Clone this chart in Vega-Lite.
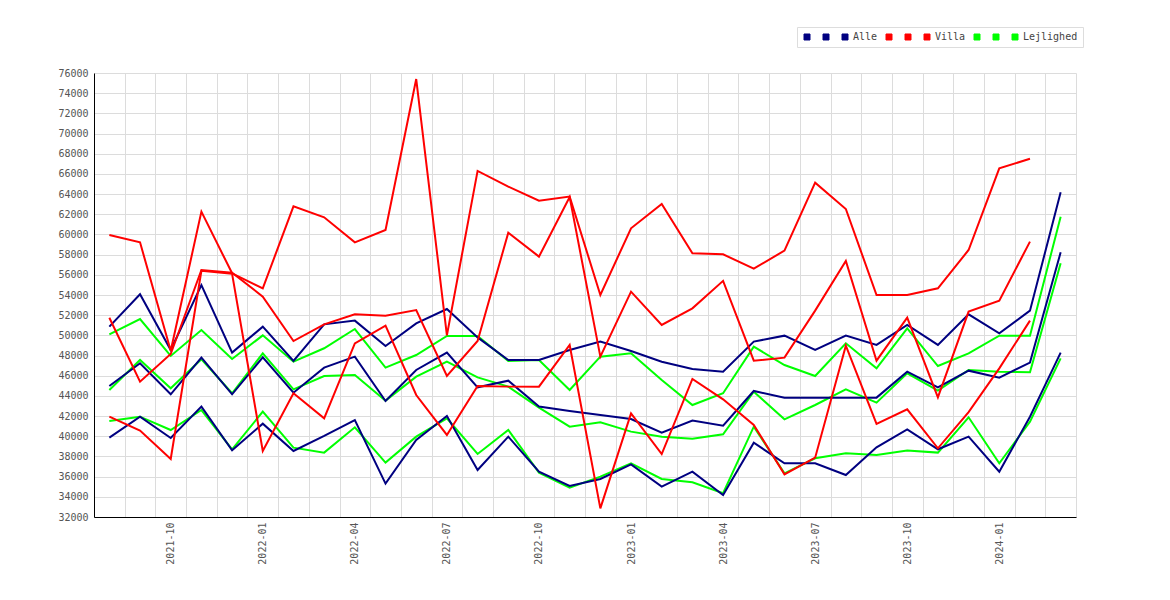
{
  "$schema": "https://vega.github.io/schema/vega-lite/v6.json",
  "width": 982,
  "height": 444,
  "autosize": {"type": "none"},
  "padding": {"left": 94, "top": 73, "right": 94, "bottom": 83},
  "background": "white",
  "config": {
    "view": {"stroke": null},
    "font": "DejaVu Sans Mono"
  },
  "data": {
    "values": [
      {"m":"2021-08","s":"l1","v":50100},{"m":"2021-09","s":"l1","v":51620},{"m":"2021-10","s":"l1","v":47960},{"m":"2021-11","s":"l1","v":50530},{"m":"2021-12","s":"l1","v":47660},{"m":"2022-01","s":"l1","v":50000},{"m":"2022-02","s":"l1","v":47390},{"m":"2022-03","s":"l1","v":48720},{"m":"2022-04","s":"l1","v":50630},{"m":"2022-05","s":"l1","v":46800},{"m":"2022-06","s":"l1","v":48050},{"m":"2022-07","s":"l1","v":49940},{"m":"2022-08","s":"l1","v":49940},{"m":"2022-09","s":"l1","v":47460},{"m":"2022-10","s":"l1","v":47560},{"m":"2022-11","s":"l1","v":44590},{"m":"2022-12","s":"l1","v":47890},{"m":"2023-01","s":"l1","v":48220},{"m":"2023-02","s":"l1","v":45580},{"m":"2023-03","s":"l1","v":43100},{"m":"2023-04","s":"l1","v":44260},{"m":"2023-05","s":"l1","v":48880},{"m":"2023-06","s":"l1","v":47060},{"m":"2023-07","s":"l1","v":45970},{"m":"2023-08","s":"l1","v":49210},{"m":"2023-09","s":"l1","v":46730},{"m":"2023-10","s":"l1","v":50700},{"m":"2023-11","s":"l1","v":46960},{"m":"2023-12","s":"l1","v":48220},{"m":"2024-01","s":"l1","v":49970},{"m":"2024-02","s":"l1","v":49970},{"m":"2024-03","s":"l1","v":61760},
      {"m":"2021-08","s":"l2","v":44590},{"m":"2021-09","s":"l2","v":47560},{"m":"2021-10","s":"l2","v":44750},{"m":"2021-11","s":"l2","v":47630},{"m":"2021-12","s":"l2","v":44260},{"m":"2022-01","s":"l2","v":48220},{"m":"2022-02","s":"l2","v":44650},{"m":"2022-03","s":"l2","v":45970},{"m":"2022-04","s":"l2","v":46070},{"m":"2022-05","s":"l2","v":43530},{"m":"2022-06","s":"l2","v":45910},{"m":"2022-07","s":"l2","v":47400},{"m":"2022-08","s":"l2","v":45840},{"m":"2022-09","s":"l2","v":44920},{"m":"2022-10","s":"l2","v":42840},{"m":"2022-11","s":"l2","v":40950},{"m":"2022-12","s":"l2","v":41380},{"m":"2023-01","s":"l2","v":40460},{"m":"2023-02","s":"l2","v":39960},{"m":"2023-03","s":"l2","v":39760},{"m":"2023-04","s":"l2","v":40190},{"m":"2023-05","s":"l2","v":44420},{"m":"2023-06","s":"l2","v":41680},{"m":"2023-07","s":"l2","v":43100},{"m":"2023-08","s":"l2","v":44650},{"m":"2023-09","s":"l2","v":43330},{"m":"2023-10","s":"l2","v":46240},{"m":"2023-11","s":"l2","v":44520},{"m":"2023-12","s":"l2","v":46570},{"m":"2024-01","s":"l2","v":46400},{"m":"2024-02","s":"l2","v":46340},{"m":"2024-03","s":"l2","v":57140},
      {"m":"2021-08","s":"Lejlighed","v":41510},{"m":"2021-09","s":"Lejlighed","v":41940},{"m":"2021-10","s":"Lejlighed","v":40620},{"m":"2021-11","s":"Lejlighed","v":42600},{"m":"2021-12","s":"Lejlighed","v":38710},{"m":"2022-01","s":"Lejlighed","v":42440},{"m":"2022-02","s":"Lejlighed","v":38870},{"m":"2022-03","s":"Lejlighed","v":38380},{"m":"2022-04","s":"Lejlighed","v":40890},{"m":"2022-05","s":"Lejlighed","v":37390},{"m":"2022-06","s":"Lejlighed","v":39960},{"m":"2022-07","s":"Lejlighed","v":41780},{"m":"2022-08","s":"Lejlighed","v":38250},{"m":"2022-09","s":"Lejlighed","v":40620},{"m":"2022-10","s":"Lejlighed","v":36400},{"m":"2022-11","s":"Lejlighed","v":34910},{"m":"2022-12","s":"Lejlighed","v":36000},{"m":"2023-01","s":"Lejlighed","v":37320},{"m":"2023-02","s":"Lejlighed","v":35770},{"m":"2023-03","s":"Lejlighed","v":35440},{"m":"2023-04","s":"Lejlighed","v":34350},{"m":"2023-05","s":"Lejlighed","v":40950},{"m":"2023-06","s":"Lejlighed","v":36330},{"m":"2023-07","s":"Lejlighed","v":37820},{"m":"2023-08","s":"Lejlighed","v":38310},{"m":"2023-09","s":"Lejlighed","v":38150},{"m":"2023-10","s":"Lejlighed","v":38580},{"m":"2023-11","s":"Lejlighed","v":38380},{"m":"2023-12","s":"Lejlighed","v":41880},{"m":"2024-01","s":"Lejlighed","v":37320},{"m":"2024-02","s":"Lejlighed","v":41450},{"m":"2024-03","s":"Lejlighed","v":47720},
      {"m":"2021-08","s":"a1","v":50860},{"m":"2021-09","s":"a1","v":54070},{"m":"2021-10","s":"a1","v":48550},{"m":"2021-11","s":"a1","v":54990},{"m":"2021-12","s":"a1","v":48290},{"m":"2022-01","s":"a1","v":50860},{"m":"2022-02","s":"a1","v":47460},{"m":"2022-03","s":"a1","v":51090},{"m":"2022-04","s":"a1","v":51460},{"m":"2022-05","s":"a1","v":48950},{"m":"2022-06","s":"a1","v":51190},{"m":"2022-07","s":"a1","v":52610},{"m":"2022-08","s":"a1","v":49800},{"m":"2022-09","s":"a1","v":47560},{"m":"2022-10","s":"a1","v":47560},{"m":"2022-11","s":"a1","v":48550},{"m":"2022-12","s":"a1","v":49380},{"m":"2023-01","s":"a1","v":48450},{"m":"2023-02","s":"a1","v":47390},{"m":"2023-03","s":"a1","v":46670},{"m":"2023-04","s":"a1","v":46400},{"m":"2023-05","s":"a1","v":49380},{"m":"2023-06","s":"a1","v":49970},{"m":"2023-07","s":"a1","v":48550},{"m":"2023-08","s":"a1","v":49970},{"m":"2023-09","s":"a1","v":49050},{"m":"2023-10","s":"a1","v":51030},{"m":"2023-11","s":"a1","v":49050},{"m":"2023-12","s":"a1","v":52080},{"m":"2024-01","s":"a1","v":50200},{"m":"2024-02","s":"a1","v":52450},{"m":"2024-03","s":"a1","v":64180},
      {"m":"2021-08","s":"a2","v":44980},{"m":"2021-09","s":"a2","v":47230},{"m":"2021-10","s":"a2","v":44160},{"m":"2021-11","s":"a2","v":47790},{"m":"2021-12","s":"a2","v":44160},{"m":"2022-01","s":"a2","v":47820},{"m":"2022-02","s":"a2","v":44320},{"m":"2022-03","s":"a2","v":46800},{"m":"2022-04","s":"a2","v":47890},{"m":"2022-05","s":"a2","v":43500},{"m":"2022-06","s":"a2","v":46570},{"m":"2022-07","s":"a2","v":48290},{"m":"2022-08","s":"a2","v":44850},{"m":"2022-09","s":"a2","v":45510},{"m":"2022-10","s":"a2","v":42940},{"m":"2022-11","s":"a2","v":42500},{"m":"2022-12","s":"a2","v":42100},{"m":"2023-01","s":"a2","v":41710},{"m":"2023-02","s":"a2","v":40360},{"m":"2023-03","s":"a2","v":41550},{"m":"2023-04","s":"a2","v":41050},{"m":"2023-05","s":"a2","v":44490},{"m":"2023-06","s":"a2","v":43830},{"m":"2023-07","s":"a2","v":43830},{"m":"2023-08","s":"a2","v":43830},{"m":"2023-09","s":"a2","v":43830},{"m":"2023-10","s":"a2","v":46400},{"m":"2023-11","s":"a2","v":44850},{"m":"2023-12","s":"a2","v":46500},{"m":"2024-01","s":"a2","v":45810},{"m":"2024-02","s":"a2","v":47300},{"m":"2024-03","s":"a2","v":58230},
      {"m":"2021-08","s":"Alle","v":39860},{"m":"2021-09","s":"Alle","v":41940},{"m":"2021-10","s":"Alle","v":39830},{"m":"2021-11","s":"Alle","v":42940},{"m":"2021-12","s":"Alle","v":38610},{"m":"2022-01","s":"Alle","v":41250},{"m":"2022-02","s":"Alle","v":38540},{"m":"2022-03","s":"Alle","v":40030},{"m":"2022-04","s":"Alle","v":41610},{"m":"2022-05","s":"Alle","v":35310},{"m":"2022-06","s":"Alle","v":39630},{"m":"2022-07","s":"Alle","v":42010},{"m":"2022-08","s":"Alle","v":36660},{"m":"2022-09","s":"Alle","v":39960},{"m":"2022-10","s":"Alle","v":36490},{"m":"2022-11","s":"Alle","v":35070},{"m":"2022-12","s":"Alle","v":35770},{"m":"2023-01","s":"Alle","v":37220},{"m":"2023-02","s":"Alle","v":35010},{"m":"2023-03","s":"Alle","v":36490},{"m":"2023-04","s":"Alle","v":34180},{"m":"2023-05","s":"Alle","v":39370},{"m":"2023-06","s":"Alle","v":37320},{"m":"2023-07","s":"Alle","v":37320},{"m":"2023-08","s":"Alle","v":36160},{"m":"2023-09","s":"Alle","v":38910},{"m":"2023-10","s":"Alle","v":40690},{"m":"2023-11","s":"Alle","v":38710},{"m":"2023-12","s":"Alle","v":39960},{"m":"2024-01","s":"Alle","v":36490},{"m":"2024-02","s":"Alle","v":41940},{"m":"2024-03","s":"Alle","v":48290},
      {"m":"2021-08","s":"v1","v":59950},{"m":"2021-09","s":"v1","v":59220},{"m":"2021-10","s":"v1","v":48480},{"m":"2021-11","s":"v1","v":62260},{"m":"2021-12","s":"v1","v":56150},{"m":"2022-01","s":"v1","v":54660},{"m":"2022-02","s":"v1","v":62790},{"m":"2022-03","s":"v1","v":61700},{"m":"2022-04","s":"v1","v":59220},{"m":"2022-05","s":"v1","v":60440},{"m":"2022-06","s":"v1","v":75400},{"m":"2022-07","s":"v1","v":50000},{"m":"2022-08","s":"v1","v":66300},{"m":"2022-09","s":"v1","v":64740},{"m":"2022-10","s":"v1","v":63350},{"m":"2022-11","s":"v1","v":63750},{"m":"2022-12","s":"v1","v":54000},{"m":"2023-01","s":"v1","v":60610},{"m":"2023-02","s":"v1","v":63020},{"m":"2023-03","s":"v1","v":58130},{"m":"2023-04","s":"v1","v":58030},{"m":"2023-05","s":"v1","v":56610},{"m":"2023-06","s":"v1","v":58400},{"m":"2023-07","s":"v1","v":65130},{"m":"2023-08","s":"v1","v":62520},{"m":"2023-09","s":"v1","v":54000},{"m":"2023-10","s":"v1","v":54000},{"m":"2023-11","s":"v1","v":54660},{"m":"2023-12","s":"v1","v":58460},{"m":"2024-01","s":"v1","v":66550},{"m":"2024-02","s":"v1","v":67510},
      {"m":"2021-08","s":"v2","v":51750},{"m":"2021-09","s":"v2","v":45410},{"m":"2021-10","s":"v2","v":48150},{"m":"2021-11","s":"v2","v":56480},{"m":"2021-12","s":"v2","v":56200},{"m":"2022-01","s":"v2","v":53840},{"m":"2022-02","s":"v2","v":49440},{"m":"2022-03","s":"v2","v":51090},{"m":"2022-04","s":"v2","v":52080},{"m":"2022-05","s":"v2","v":51950},{"m":"2022-06","s":"v2","v":52510},{"m":"2022-07","s":"v2","v":45970},{"m":"2022-08","s":"v2","v":49440},{"m":"2022-09","s":"v2","v":60180},{"m":"2022-10","s":"v2","v":57800},{"m":"2022-11","s":"v2","v":63700},{"m":"2022-12","s":"v2","v":47890},{"m":"2023-01","s":"v2","v":54330},{"m":"2023-02","s":"v2","v":51030},{"m":"2023-03","s":"v2","v":52680},{"m":"2023-04","s":"v2","v":55400},{"m":"2023-05","s":"v2","v":47490},{"m":"2023-06","s":"v2","v":47790},{"m":"2023-07","s":"v2","v":52450},{"m":"2023-08","s":"v2","v":57370},{"m":"2023-09","s":"v2","v":47490},{"m":"2023-10","s":"v2","v":51750},{"m":"2023-11","s":"v2","v":43860},{"m":"2023-12","s":"v2","v":52350},{"m":"2024-01","s":"v2","v":53440},{"m":"2024-02","s":"v2","v":59290},
      {"m":"2021-08","s":"Villa","v":41940},{"m":"2021-09","s":"Villa","v":40560},{"m":"2021-10","s":"Villa","v":37750},{"m":"2021-11","s":"Villa","v":56400},{"m":"2021-12","s":"Villa","v":56100},{"m":"2022-01","s":"Villa","v":38540},{"m":"2022-02","s":"Villa","v":44260},{"m":"2022-03","s":"Villa","v":41780},{"m":"2022-04","s":"Villa","v":49210},{"m":"2022-05","s":"Villa","v":50960},{"m":"2022-06","s":"Villa","v":44090},{"m":"2022-07","s":"Villa","v":40130},{"m":"2022-08","s":"Villa","v":44980},{"m":"2022-09","s":"Villa","v":44920},{"m":"2022-10","s":"Villa","v":44920},{"m":"2022-11","s":"Villa","v":49050},{"m":"2022-12","s":"Villa","v":32860},{"m":"2023-01","s":"Villa","v":42270},{"m":"2023-02","s":"Villa","v":38240},{"m":"2023-03","s":"Villa","v":45680},{"m":"2023-04","s":"Villa","v":43660},{"m":"2023-05","s":"Villa","v":41120},{"m":"2023-06","s":"Villa","v":36230},{"m":"2023-07","s":"Villa","v":37880},{"m":"2023-08","s":"Villa","v":48980},{"m":"2023-09","s":"Villa","v":41220},{"m":"2023-10","s":"Villa","v":42670},{"m":"2023-11","s":"Villa","v":38810},{"m":"2023-12","s":"Villa","v":42400},{"m":"2024-01","s":"Villa","v":46730},{"m":"2024-02","s":"Villa","v":51460}
    ]
  },
  "mark": {"type": "line", "strokeWidth": 2},
  "encoding": {
    "x": {
      "field": "m",
      "type": "ordinal",
      "bandPosition": 0.5,
      "scale": {"type": "band", "paddingInner": 0, "paddingOuter": 0},
      "axis": {
        "title": null,
        "grid": true,
        "tickBand": "extent",
        "ticks": false,
        "gridColor": "#dcdcdc",
        "domainColor": "#000000",
        "labelAngle": 270,
        "labelPadding": 5,
        "labelOverlap": false,
        "labelFont": "DejaVu Sans Mono",
        "labelFontSize": 10,
        "labelColor": "#555555",
        "labelExpr": "indexof(['01','04','07','10'], slice(datum.label, 5)) >= 0 ? datum.label : ''"
      }
    },
    "y": {
      "field": "v",
      "type": "quantitative",
      "scale": {"domain": [32000, 76000], "nice": false, "zero": false},
      "axis": {
        "title": null,
        "values": [32000, 34000, 36000, 38000, 40000, 42000, 44000, 46000, 48000, 50000, 52000, 54000, 56000, 58000, 60000, 62000, 64000, 66000, 68000, 70000, 72000, 74000, 76000],
        "format": "d",
        "ticks": false,
        "grid": true,
        "gridColor": "#dcdcdc",
        "domainColor": "#000000",
        "labelPadding": 6,
        "labelFont": "DejaVu Sans Mono",
        "labelFontSize": 10,
        "labelColor": "#555555"
      }
    },
    "color": {
      "field": "s",
      "type": "nominal",
      "scale": {
        "domain": ["a1", "a2", "Alle", "v1", "v2", "Villa", "l1", "l2", "Lejlighed"],
        "range": ["#000080", "#000080", "#000080", "#ff0000", "#ff0000", "#ff0000", "#00ff00", "#00ff00", "#00ff00"]
      },
      "legend": {
        "title": null,
        "orient": "none",
        "legendX": 703,
        "legendY": -46,
        "direction": "horizontal",
        "columns": 9,
        "symbolType": "square",
        "symbolSize": 36,
        "symbolStrokeWidth": 1,
        "labelOffset": 3,
        "columnPadding": 6,
        "padding": 5,
        "strokeColor": "#dddddd",
        "fillColor": "#ffffff",
        "labelFont": "DejaVu Sans Mono",
        "labelFontSize": 10,
        "labelColor": "#444444",
        "labelExpr": "datum.label == 'Alle' || datum.label == 'Villa' || datum.label == 'Lejlighed' ? datum.label : ' '",
        "encode": {
          "symbols": {
            "update": {
              "fill": {"scale": "color", "field": "value"},
              "stroke": {"value": "#555555"},
              "opacity": {"value": 1}
            }
          }
        }
      }
    }
  }
}
